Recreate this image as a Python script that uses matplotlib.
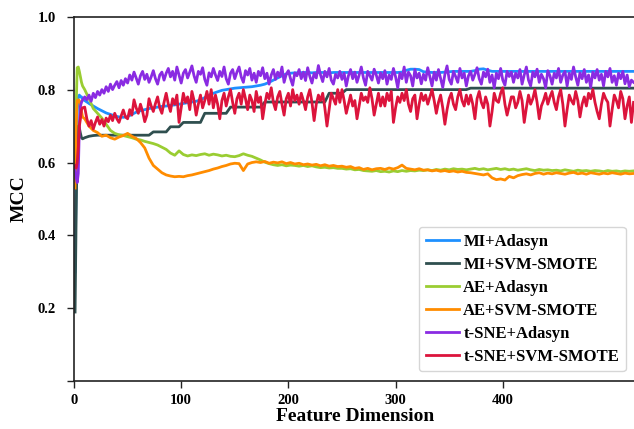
import matplotlib.pyplot as plt
import numpy as np

plt.rcParams['font.family'] = ['Liberation Serif', 'DejaVu Serif']
plt.rcParams['font.weight'] = 'bold'

# feature dimensions sampled (smooth curves / noisy curves)
dims = [1, 2, 3, 4, 5, 6, 7, 8] + list(range(10, 523, 4))
dims_fine = [1, 2, 3, 4, 5, 6, 7, 8] + list(range(10, 523, 2))

mi_adasyn = [0.30, 0.55, 0.74, 0.78, 0.785, 0.78, 0.78, 0.775,
             0.77, 0.762, 0.755, 0.748, 0.742, 0.736, 0.732, 0.728, 0.725, 0.724,
             0.726, 0.732, 0.738, 0.742, 0.745, 0.748, 0.75, 0.752, 0.754, 0.755,
             0.757, 0.758, 0.76, 0.762, 0.764, 0.766, 0.768, 0.772, 0.778, 0.785,
             0.79, 0.794, 0.798, 0.80, 0.802, 0.804, 0.805, 0.806, 0.807, 0.808,
             0.81, 0.812, 0.815, 0.82, 0.826, 0.832, 0.838, 0.843, 0.845, 0.846,
             0.846, 0.847, 0.847, 0.846, 0.847, 0.847, 0.847, 0.846, 0.847, 0.847,
             0.847, 0.847, 0.847, 0.847, 0.847, 0.847, 0.847, 0.847, 0.847, 0.847,
             0.847, 0.847, 0.847, 0.847, 0.848, 0.853, 0.856, 0.856, 0.855, 0.849,
             0.848, 0.847, 0.847, 0.847, 0.848, 0.849, 0.85, 0.85, 0.85, 0.85,
             0.85, 0.852, 0.856, 0.857, 0.853, 0.85, 0.85, 0.85, 0.85, 0.85,
             0.85, 0.85, 0.85, 0.85, 0.85, 0.85, 0.85, 0.85, 0.85, 0.85,
             0.85, 0.85, 0.85, 0.85, 0.85, 0.85, 0.85, 0.85, 0.85, 0.85,
             0.85, 0.85, 0.85, 0.85, 0.85, 0.85, 0.85, 0.85, 0.85]

mi_svm = [0.19, 0.45, 0.66, 0.70, 0.695, 0.68, 0.668, 0.665,
          0.668, 0.672, 0.674, 0.675, 0.675, 0.675, 0.675, 0.675, 0.675, 0.675,
          0.675, 0.675, 0.675, 0.675, 0.675, 0.675, 0.684, 0.684, 0.684, 0.684,
          0.698, 0.698, 0.698, 0.71, 0.71, 0.71, 0.71, 0.71, 0.735, 0.735,
          0.735, 0.735, 0.735, 0.735, 0.752, 0.752, 0.752, 0.752, 0.752, 0.752,
          0.752, 0.752, 0.766, 0.766, 0.766, 0.766, 0.766, 0.766, 0.766, 0.766,
          0.766, 0.766, 0.766, 0.766, 0.766, 0.766, 0.766, 0.79, 0.79, 0.79,
          0.79, 0.80, 0.80, 0.80, 0.80, 0.80, 0.80, 0.80, 0.80, 0.80,
          0.80, 0.80, 0.80, 0.80, 0.80, 0.80, 0.80, 0.80, 0.80, 0.80,
          0.80, 0.80, 0.80, 0.80, 0.80, 0.80, 0.80, 0.80, 0.80, 0.80,
          0.804, 0.804, 0.804, 0.804, 0.804, 0.804, 0.804, 0.804, 0.804, 0.804,
          0.804, 0.804, 0.804, 0.804, 0.804, 0.804, 0.804, 0.804, 0.804, 0.804,
          0.804, 0.804, 0.804, 0.804, 0.804, 0.804, 0.804, 0.804, 0.804, 0.804,
          0.804, 0.804, 0.804, 0.804, 0.804, 0.804, 0.804, 0.804, 0.804]

ae_adasyn = [0.58, 0.75, 0.86, 0.862, 0.85, 0.835, 0.82, 0.81,
             0.80, 0.775, 0.748, 0.735, 0.722, 0.705, 0.688, 0.68, 0.676, 0.674,
             0.671, 0.668, 0.664, 0.662, 0.658, 0.655, 0.652, 0.648, 0.642, 0.636,
             0.626, 0.62, 0.632, 0.622, 0.618, 0.621, 0.619, 0.622, 0.624, 0.62,
             0.623, 0.621, 0.618, 0.62, 0.617, 0.616, 0.619, 0.624, 0.62, 0.617,
             0.612, 0.607, 0.601, 0.597, 0.594, 0.592, 0.594, 0.591, 0.593, 0.592,
             0.59, 0.592, 0.589, 0.591, 0.588, 0.586, 0.587, 0.585, 0.586, 0.584,
             0.584, 0.582, 0.583, 0.58, 0.581, 0.578, 0.577, 0.576, 0.578, 0.575,
             0.576, 0.574, 0.577, 0.575, 0.578, 0.576, 0.578, 0.577, 0.579, 0.578,
             0.58, 0.578, 0.581, 0.579, 0.582, 0.58, 0.583, 0.581, 0.582, 0.58,
             0.582, 0.584, 0.581, 0.583, 0.58, 0.582, 0.584, 0.581, 0.583, 0.58,
             0.582, 0.579, 0.581, 0.583, 0.58, 0.578, 0.581, 0.579, 0.58, 0.578,
             0.579, 0.577, 0.58, 0.578, 0.576, 0.579, 0.577, 0.578, 0.576, 0.578,
             0.577, 0.575, 0.578, 0.576, 0.577, 0.575, 0.577, 0.576, 0.577]

ae_svm = [0.53, 0.70, 0.77, 0.772, 0.77, 0.76, 0.74, 0.725,
          0.72, 0.70, 0.688, 0.682, 0.672, 0.675, 0.668, 0.664, 0.67, 0.674,
          0.68, 0.672, 0.666, 0.655, 0.64, 0.612, 0.592, 0.582, 0.572, 0.566,
          0.563, 0.561, 0.562, 0.561, 0.564, 0.566, 0.569, 0.572, 0.575, 0.578,
          0.582, 0.585, 0.589, 0.592, 0.596, 0.598, 0.597, 0.578, 0.596, 0.60,
          0.602, 0.60, 0.603, 0.598, 0.601, 0.599, 0.602, 0.597, 0.60, 0.596,
          0.598, 0.594, 0.596, 0.593, 0.595, 0.591, 0.594, 0.59, 0.592, 0.589,
          0.59, 0.587, 0.589, 0.584, 0.586, 0.581, 0.584, 0.58, 0.583, 0.584,
          0.581, 0.585, 0.582, 0.586, 0.593, 0.584, 0.582, 0.58, 0.583, 0.579,
          0.58, 0.577, 0.579, 0.576, 0.578, 0.575, 0.577, 0.574, 0.576, 0.573,
          0.572, 0.57, 0.568, 0.566, 0.569, 0.558, 0.553, 0.555, 0.552, 0.562,
          0.558, 0.564, 0.567, 0.569, 0.566, 0.57, 0.572, 0.568, 0.571, 0.569,
          0.572, 0.57, 0.568, 0.571, 0.573, 0.569, 0.571, 0.568, 0.572, 0.57,
          0.568, 0.571, 0.569, 0.572, 0.57, 0.568, 0.571, 0.569, 0.57]

tsne_adasyn = [0.58, 0.56, 0.545, 0.57, 0.70, 0.755, 0.765, 0.772,
               0.78, 0.772, 0.785, 0.768, 0.79, 0.778, 0.795, 0.785, 0.80, 0.79,
               0.808, 0.795, 0.815, 0.80, 0.812, 0.822, 0.805, 0.825, 0.812, 0.83,
               0.818, 0.84, 0.826, 0.848, 0.832, 0.815, 0.838, 0.85, 0.828, 0.842,
               0.82, 0.835, 0.852, 0.83, 0.815, 0.84, 0.848, 0.826, 0.845, 0.858,
               0.835, 0.85, 0.826, 0.862, 0.84, 0.818, 0.845, 0.855, 0.832, 0.848,
               0.865, 0.838, 0.82, 0.85, 0.842, 0.86, 0.828, 0.812, 0.846, 0.835,
               0.858, 0.84, 0.825, 0.85, 0.836, 0.862, 0.83, 0.815, 0.845, 0.855,
               0.83, 0.848, 0.862, 0.835, 0.82, 0.852, 0.84, 0.858, 0.826, 0.845,
               0.82, 0.85, 0.838, 0.86, 0.83, 0.845, 0.815, 0.84, 0.855, 0.828,
               0.848, 0.835, 0.862, 0.82, 0.842, 0.852, 0.83, 0.812, 0.846, 0.838,
               0.855, 0.83, 0.848, 0.825, 0.86, 0.836, 0.818, 0.845, 0.832, 0.866,
               0.84, 0.822, 0.85, 0.835, 0.858, 0.826, 0.815, 0.842, 0.832, 0.85,
               0.828, 0.845, 0.81, 0.838, 0.855, 0.83, 0.848, 0.82, 0.84, 0.862,
               0.832, 0.812, 0.85, 0.838, 0.826, 0.856, 0.84, 0.818, 0.846, 0.83,
               0.852, 0.815, 0.84, 0.828, 0.858, 0.835, 0.805, 0.845, 0.83, 0.862,
               0.82, 0.848, 0.838, 0.81, 0.855, 0.832, 0.845, 0.816, 0.842, 0.826,
               0.86, 0.835, 0.81, 0.848, 0.826, 0.855, 0.83, 0.806, 0.842, 0.865,
               0.828, 0.815, 0.85, 0.836, 0.82, 0.858, 0.832, 0.845, 0.81, 0.838,
               0.85, 0.826, 0.842, 0.86, 0.83, 0.815, 0.848, 0.835, 0.856, 0.82,
               0.84, 0.805, 0.845, 0.83, 0.858, 0.826, 0.812, 0.85, 0.836, 0.848,
               0.82, 0.845, 0.832, 0.855, 0.815, 0.84, 0.862, 0.826, 0.81, 0.848,
               0.835, 0.856, 0.82, 0.842, 0.83, 0.805, 0.852, 0.838, 0.815, 0.845,
               0.832, 0.858, 0.82, 0.84, 0.85, 0.81, 0.845, 0.828, 0.862, 0.835,
               0.812, 0.846, 0.83, 0.855, 0.82, 0.84, 0.806, 0.848, 0.832, 0.855,
               0.826, 0.842, 0.81, 0.85, 0.835, 0.858, 0.82, 0.838, 0.812, 0.845,
               0.83, 0.85, 0.816, 0.84, 0.808, 0.826, 0.82]

tsne_svm = [0.59, 0.585, 0.60, 0.64, 0.70, 0.72, 0.745, 0.75,
            0.752, 0.72, 0.70, 0.715, 0.692, 0.71, 0.725, 0.705, 0.718, 0.70,
            0.722, 0.712, 0.73, 0.715, 0.735, 0.72, 0.71, 0.728, 0.744, 0.725,
            0.72, 0.745, 0.73, 0.772, 0.75, 0.735, 0.76, 0.74, 0.712, 0.73,
            0.775, 0.755, 0.74, 0.762, 0.78, 0.75, 0.735, 0.765, 0.79, 0.76,
            0.74, 0.775, 0.76, 0.785, 0.71, 0.75, 0.79, 0.765, 0.78, 0.745,
            0.795, 0.77, 0.73, 0.76, 0.785, 0.75, 0.77, 0.795, 0.76, 0.80,
            0.75, 0.785, 0.76, 0.72, 0.77, 0.79, 0.755, 0.78, 0.80, 0.765,
            0.735, 0.775, 0.79, 0.76, 0.80, 0.775, 0.745, 0.785, 0.77, 0.74,
            0.795, 0.765, 0.78, 0.72, 0.76, 0.79, 0.775, 0.805, 0.765, 0.745,
            0.78, 0.795, 0.76, 0.73, 0.775, 0.79, 0.755, 0.80, 0.77, 0.785,
            0.76, 0.79, 0.77, 0.745, 0.78, 0.80, 0.765, 0.715, 0.76, 0.785,
            0.77, 0.79, 0.75, 0.70, 0.745, 0.79, 0.775, 0.76, 0.80, 0.765,
            0.80, 0.77, 0.735, 0.76, 0.785, 0.755, 0.77, 0.72, 0.755, 0.79,
            0.77, 0.78, 0.765, 0.805, 0.775, 0.73, 0.76, 0.79, 0.755, 0.78,
            0.755, 0.79, 0.77, 0.795, 0.71, 0.75, 0.78, 0.765, 0.79, 0.77,
            0.80, 0.76, 0.74, 0.775, 0.785, 0.72, 0.76, 0.79, 0.77, 0.785,
            0.76, 0.78, 0.80, 0.77, 0.735, 0.765, 0.785, 0.75, 0.705, 0.745,
            0.775, 0.79, 0.76, 0.745, 0.78, 0.80, 0.77, 0.755, 0.785, 0.76,
            0.785, 0.76, 0.72, 0.775, 0.795, 0.765, 0.75, 0.78, 0.76, 0.70,
            0.74, 0.79, 0.77, 0.765, 0.79, 0.805, 0.76, 0.73, 0.755, 0.78,
            0.78, 0.75, 0.765, 0.795, 0.77, 0.71, 0.75, 0.785, 0.76, 0.775,
            0.80, 0.765, 0.72, 0.755, 0.77, 0.79, 0.76, 0.78, 0.795, 0.765,
            0.745, 0.78, 0.80, 0.76, 0.70, 0.745, 0.785, 0.77, 0.76, 0.795,
            0.77, 0.725, 0.76, 0.78, 0.755, 0.79, 0.775, 0.80, 0.765, 0.74,
            0.72, 0.76, 0.79, 0.775, 0.765, 0.70, 0.745, 0.785, 0.77, 0.75,
            0.795, 0.775, 0.72, 0.755, 0.78, 0.71, 0.765]

labels = ['MI+Adasyn', 'MI+SVM-SMOTE', 'AE+Adasyn', 'AE+SVM-SMOTE',
          't-SNE+Adasyn', 't-SNE+SVM-SMOTE']
colors = ['#1E90FF', '#2F4F4F', '#9ACD32', '#FF8C00', '#8A2BE2', '#DC143C']
series = [(dims, mi_adasyn), (dims, mi_svm), (dims, ae_adasyn), (dims, ae_svm),
          (dims_fine, tsne_adasyn), (dims_fine, tsne_svm)]

fig = plt.figure(figsize=(6.34, 4.29), dpi=100)
ax = fig.add_axes([0.1167, 0.1112, 0.886, 0.8499])

for (xs, vals), lab, col in zip(series, labels, colors):
    ax.plot(xs, vals, color=col, lw=2.0, label=lab)

ax.set_xlim(0, 524)
ax.set_ylim(0, 1.0)
ax.set_xticks([0, 100, 200, 300, 400])
ax.set_yticks([0, 0.2, 0.4, 0.6, 0.8, 1.0])
ax.set_yticklabels(['', '0.2', '0.4', '0.6', '0.8', '1.0'])
ax.tick_params(direction='out', length=5, width=1, labelsize=10.5, color='#222222')
ax.tick_params(axis='x', pad=4)
ax.tick_params(axis='y', pad=8)
for s in ax.spines.values():
    s.set_color('#222222')
    s.set_linewidth(1.2)

ax.set_xlabel('Feature Dimension', fontsize=14, fontweight='bold', labelpad=1)
ax.set_ylabel('MCC', fontsize=14, fontweight='bold', labelpad=7)

ax.legend(loc='lower right', prop={'size': 12, 'weight': 'bold'},
          labelspacing=0.42, handlelength=2.0, handletextpad=0.25,
          borderaxespad=0.6)

fig.savefig('out.png', dpi=100)
